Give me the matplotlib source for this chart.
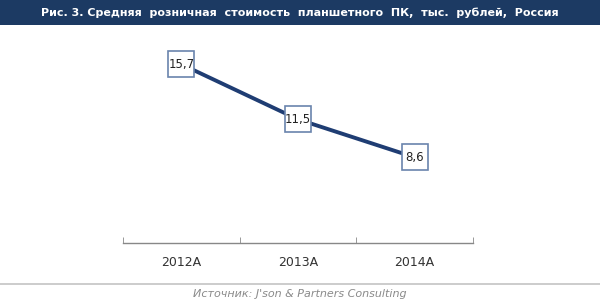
import matplotlib.pyplot as plt
from matplotlib.lines import Line2D

years = ['2012A', '2013A', '2014A']
prices = [15.7, 11.5, 8.6]
labels = ['15,7', '11,5', '8,6']

title = 'Рис. 3. Средняя  розничная  стоимость  планшетного  ПК,  тыс.  рублей,  Россия'
source = 'Источник: J\'son & Partners Consulting'

W, H = 600, 301
fig = plt.figure(figsize=(W / 100, H / 100), dpi=100)
fig.patch.set_facecolor('white')

# title bar
fig.patches.append(plt.Rectangle((0, 1 - 25 / H), 1, 25 / H, transform=fig.transFigure,
                                 facecolor='#1c3a63', edgecolor='none'))
fig.text(0.5, 1 - 13 / H, title, color='white', fontsize=8.0, fontweight='bold',
         ha='center', va='center', family='DejaVu Sans')

ax = fig.add_axes([123 / W, 1 - 243 / H, 350 / W, 213 / H])
x = range(len(years))
ax.plot(x, prices, color='#1f3d73', lw=2.8, solid_capstyle='butt', zorder=2)
ax.plot(x, prices, ls='none', marker='s', ms=19, mfc='white', mec='#6a84ad', mew=1.2, zorder=3)
for i, (v, s) in enumerate(zip(prices, labels)):
    ax.text(i, v, s, ha='center', va='center', fontsize=8.5, color='#222222', zorder=4)

ax.set_xlim(-0.5, 2.5)
ax.set_ylim(2.06, 18.32)
ax.set_xticks(x)
ax.set_xticklabels(years, fontsize=9, color='#333333')
ax.set_xticks([-0.5, 0.5, 1.5, 2.5], minor=True)
ax.tick_params(axis='x', which='major', length=0, pad=9)
ax.tick_params(axis='x', which='minor', length=4, direction='in', color='#888888',
               top=False, bottom=True)
ax.set_yticks([])
for s in ['top', 'left', 'right']:
    ax.spines[s].set_visible(False)
ax.spines['bottom'].set_color('#888888')
ax.spines['bottom'].set_linewidth(1.0)

# separator and source
fig.add_artist(Line2D([0, 1], [1 - 284 / H, 1 - 284 / H], transform=fig.transFigure,
                      color='#c8c8c8', lw=1.3))
fig.text(0.5, 1 - 294 / H, source, ha='center', va='center', fontsize=8,
         style='italic', color='#8a8a8a')

fig.savefig('out.png', dpi=100)
